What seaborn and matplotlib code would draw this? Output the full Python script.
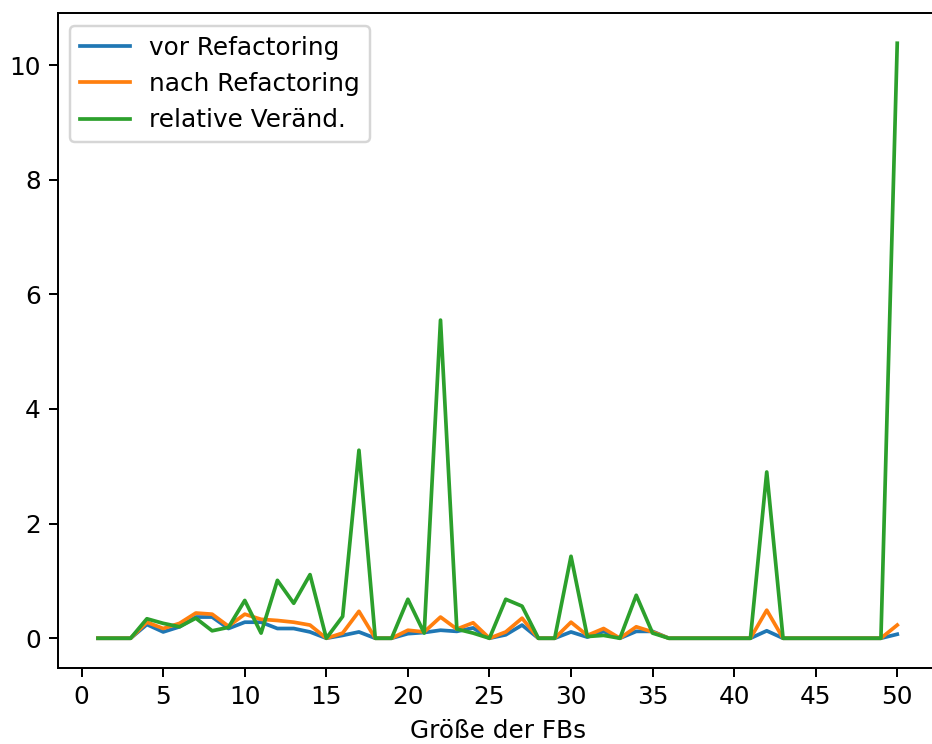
import matplotlib
matplotlib.use("Agg")
import matplotlib.pyplot as plt
import seaborn as sns
import numpy as np

x_values = list(range(1, 51))

vor_refactoring = [0, 0, 0, 0.24, 0.11, 0.20, 0.37, 0.37, 0.17, 0.28,
                   0.28, 0.17, 0.17, 0.11, 0, 0.05, 0.11, 0, 0, 0.08,
                   0.10, 0.14, 0.12, 0.18, 0, 0.06, 0.23, 0, 0, 0.11,
                   0.02, 0.12, 0, 0.12, 0.12, 0, 0, 0, 0, 0,
                   0, 0.13, 0, 0, 0, 0, 0, 0, 0, 0.07]

nach_refactoring = [0, 0, 0, 0.28, 0.17, 0.26, 0.44, 0.42, 0.21, 0.42,
                    0.33, 0.31, 0.28, 0.23, 0, 0.09, 0.47, 0, 0, 0.14,
                    0.11, 0.37, 0.16, 0.27, 0, 0.11, 0.35, 0, 0, 0.28,
                    0.05, 0.17, 0, 0.20, 0.11, 0, 0, 0, 0, 0,
                    0, 0.49, 0, 0, 0, 0, 0, 0, 0, 0.23]

relative_veraend = [0, 0, 0, 0.34, 0.26, 0.20, 0.35, 0.13, 0.19, 0.66,
                    0.09, 1.01, 0.61, 1.11, 0, 0.38, 3.28, 0, 0, 0.68,
                    0.09, 5.55, 0.16, 0.09, 0, 0.68, 0.56, 0, 0, 1.43,
                    0.03, 0.05, 0, 0.75, 0.09, 0, 0, 0, 0, 0,
                    0, 2.90, 0, 0, 0, 0, 0, 0, 0, 10.38]

series_labels = ["vor Refactoring", "nach Refactoring", "relative Veränd."]
x_ticks = [0, 5, 10, 15, 20, 25, 30, 35, 40, 45, 50]
y_ticks = [0, 2, 4, 6, 8, 10]
x_label = "Größe der FBs"

DPI = 178
fig = plt.figure(figsize=(933 / DPI, 744 / DPI), dpi=DPI)
ax = fig.add_axes([58 / 933, 1 - 668 / 744, (937.2 - 58) / 933, (668 - 13.5) / 744])

colors = ["#1f77b4", "#ff7f0e", "#2ca02c"]
for vals, lab, col in zip([vor_refactoring, nach_refactoring, relative_veraend], series_labels, colors):
    sns.lineplot(x=x_values, y=vals, label=lab, color=col, linewidth=1.5, ax=ax)

ax.set_xticks(x_ticks)
ax.set_yticks(y_ticks)
ax.set_xlabel(x_label)
ax.legend(loc="upper left")

fig.savefig("out.png", dpi=DPI)
